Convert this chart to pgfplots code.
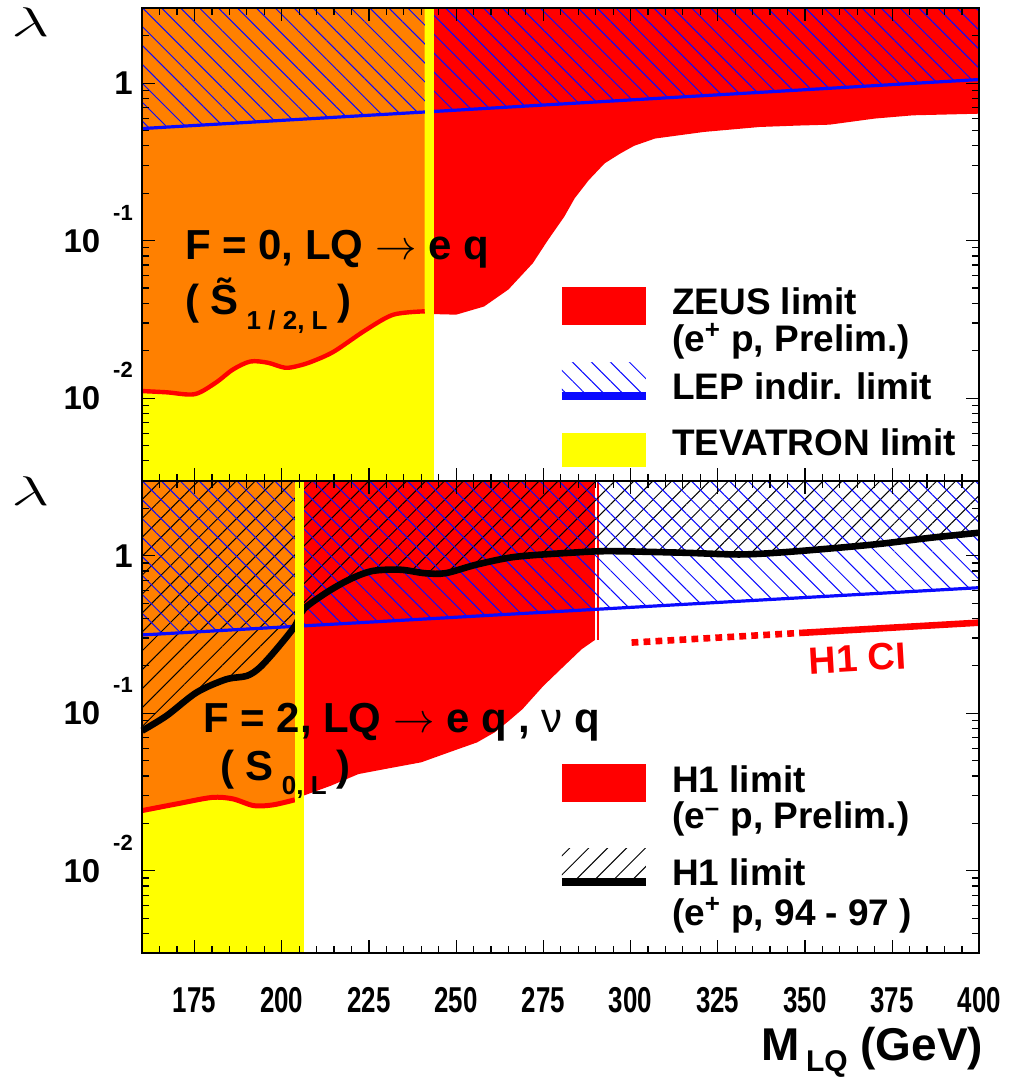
\documentclass[border=0pt]{standalone}
\usepackage{fontspec}
\setmainfont{Liberation Sans}
\usepackage{graphicx}
\usepackage{pgfplots}
\pgfplotsset{compat=1.18}
\usetikzlibrary{patterns.meta}

\definecolor{rred}{RGB}{255,0,0}
\definecolor{rorange}{RGB}{255,128,0}
\definecolor{ryellow}{RGB}{255,255,0}
\definecolor{rblue}{RGB}{10,10,255}

% ZEUS e+p limit (F=0): excluded area left of the Tevatron bound (first/last rows = upper corners)
\pgfplotstableread{
m lam
160 3
160 0.0111
167 0.0109
175 0.0106
181 0.0125
186 0.0152
191 0.0171
196 0.0168
201 0.0156
205 0.0161
209 0.0172
215 0.0198
224 0.0270
232 0.0339
241 0.0356
241 3
}\zeusL

% ZEUS e+p limit right of the Tevatron bound
\pgfplotstableread{
m lam
243.6 3
243.6 0.0342
250 0.0339
258 0.0382
265 0.0490
272 0.0720
276.3 0.1007
281 0.142
284 0.186
288 0.242
292.6 0.310
297 0.357
301 0.400
307 0.445
321 0.490
337 0.527
348 0.538
357 0.545
370 0.596
381 0.625
400 0.640
400 3
}\zeusR

% LEP indirect limit, F=0
\pgfplotstableread{
m lam
160 3
160 0.515
400 1.055
400 3
}\lepA

% H1 e-p limit (F=2)
\pgfplotstableread{
m lam
160 3
160 0.0241
170 0.0266
180 0.0292
186 0.0286
192 0.0259
197.5 0.0262
203.75 0.0282
203.75 3
}\hmL

\pgfplotstableread{
m lam
206.3 3
206.3 0.0300
214 0.0346
222 0.0411
230 0.0444
240 0.0488
248 0.0565
256 0.0653
261 0.0755
265 0.089
269 0.106
275 0.149
281 0.200
286 0.255
289.8 0.292
289.8 3
}\hmR

% H1 e+p 94-97 limit
\pgfplotstableread{
m lam
160 3
160 0.0775
167 0.0964
175.6 0.1355
184 0.164
190 0.1726
193.7 0.195
198.5 0.255
203.8 0.358
206.3 0.457
212.8 0.583
219.5 0.708
226 0.80
234 0.815
241 0.775
247 0.775
256 0.88
267 0.984
283 1.045
294 1.069
315 1.045
332 1.019
348 1.069
370 1.180
386 1.30
400 1.40
400 3
}\hplus

% LEP indirect limit, F=2
\pgfplotstableread{
m lam
160 3
160 0.314
400 0.627
400 3
}\lepB

\newcommand{\xl}[1]{\scalebox{0.72}[1]{#1}}
\newcommand{\expo}[1]{10\hspace{6.5pt}\raisebox{16pt}[0pt][0pt]{\fontsize{11}{11}\selectfont #1}}

\tikzset{
  bluehatch/.style={pattern={Lines[angle=-45,distance=6.7pt,line width=0.5pt]}, pattern color=rblue},
  blackhatch/.style={pattern={Lines[angle=45,distance=6.7pt,line width=0.5pt]}, pattern color=black},
  legtext/.style={anchor=base west, inner sep=0pt, align=left, font=\fontsize{18.5}{18.4}\selectfont\bfseries},
  bigtext/.style={anchor=base west, inner sep=0pt, font=\fontsize{21}{24}\selectfont\bfseries},
}

\pgfplotsset{
  every axis/.append style={
    width=419pt, height=236.5pt, scale only axis, anchor=south west,
    xmin=160, xmax=400, ymode=log, ymin=0.003, ymax=3,
    axis on top, clip=false,
    axis line style={line width=1pt},
    xtick={175,200,...,400}, minor xtick={160,165,...,400},
    ytick={0.01,0.1,1},
    minor ytick={0.003,0.004,0.005,0.006,0.007,0.008,0.009,0.02,0.03,0.04,0.05,0.06,0.07,0.08,0.09,0.2,0.3,0.4,0.5,0.6,0.7,0.8,0.9,2,3},
    yticklabels={\expo{-2},\expo{-1},1\hspace{15pt}},
    major tick length=6.5pt, minor tick length=3.5pt,
    every tick/.style={black, line width=0.6pt},
    yticklabel style={anchor=east, inner sep=0pt, xshift=-4.5pt, font=\fontsize{16.5}{18}\selectfont\bfseries},
    xticklabel style={anchor=north, inner sep=0pt, yshift=-17pt, font=\fontsize{18}{20}\selectfont\bfseries},
  },
}

\begin{document}
\begin{tikzpicture}
\useasboundingbox (-71.15pt,-62pt) rectangle (436pt,477pt);

% ---------------- top panel: F = 0 ----------------
\begin{axis}[at={(0,236.5pt)}, xticklabels={}]
\addplot[fill=ryellow, draw=none] coordinates {(160,0.003) (243.6,0.003) (243.6,3) (160,3)};
\addplot[fill=rorange, draw=none] table {\zeusL};
\addplot[fill=rred, draw=none] table {\zeusR};
\addplot[rred, line width=2.2pt, smooth, skip coords between index={0}{1}, skip coords between index={15}{16}] table {\zeusL};

\addplot[bluehatch, draw=none] table {\lepA};
\addplot[rblue, line width=1.6pt, skip coords between index={0}{1}, skip coords between index={3}{4}] table {\lepA};

\addplot[fill=ryellow, draw=none] coordinates {(241,0.003) (243.6,0.003) (243.6,3) (241,3)};

\node[font=\fontsize{22}{24}\selectfont] at (rel axis cs:0,1) [xshift=-56pt, yshift=-7pt] {\scalebox{1.6}[1]{$\lambda$}};

\node[bigtext] at (axis cs:172.2,0.0755) {F = 0, LQ $\rightarrow$ e q};
\node[bigtext] at (axis cs:172.2,0.0339) {( \~S\hspace{4pt}\raisebox{-7.5pt}{\fontsize{13}{13}\selectfont 1 / 2, L}\hspace{5pt})};

% legend (multi-line nodes are anchored on their last baseline)
\fill[rred] (axis cs:280.3,0.0293) rectangle (axis cs:304.4,0.0509);
\node[legtext] at (axis cs:311.8,0.0198) {ZEUS limit\\(e\textsuperscript{+} p, Prelim.)};
\fill[bluehatch] (axis cs:280.3,0.01102) rectangle (axis cs:304.4,0.01683);
\draw[rblue, line width=4pt] (axis cs:280.3,0.0104) -- (axis cs:304.4,0.0104);
\node[legtext] at (axis cs:311.8,0.00981) {LEP indir. limit};
\fill[ryellow] (axis cs:280.3,0.00364) rectangle (axis cs:304.4,0.00597);
\node[legtext] at (axis cs:311.8,0.0043) {TEVATRON limit};
\end{axis}

% ---------------- bottom panel: F = 2 ----------------
\begin{axis}[at={(0,0)},
  xticklabels={\xl{175},\xl{200},\xl{225},\xl{250},\xl{275},\xl{300},\xl{325},\xl{350},\xl{375},\xl{400}}]
\addplot[fill=ryellow, draw=none] coordinates {(160,0.003) (206.3,0.003) (206.3,3) (160,3)};
\addplot[fill=rorange, draw=none] table {\hmL};
\addplot[fill=rred, draw=none] table {\hmR};
\addplot[rred, line width=2.5pt, smooth, skip coords between index={0}{1}, skip coords between index={8}{9}] table {\hmL};
\addplot[rred, line width=0.8pt] coordinates {(290.6,3) (290.6,0.292)};

\addplot[blackhatch, draw=none] table {\hplus};
\addplot[bluehatch, draw=none] table {\lepB};
\addplot[rblue, line width=1.6pt, skip coords between index={0}{1}, skip coords between index={3}{4}] table {\lepB};
\addplot[black, line width=3.3pt, smooth, skip coords between index={0}{1}, skip coords between index={26}{27}] table {\hplus};

% H1 contact interaction bound
\addplot[rred, line width=3.3pt, dash pattern=on 3.4pt off 2.6pt] coordinates {(300.3,0.281) (350.3,0.325)};
\addplot[rred, line width=3.3pt] coordinates {(350.3,0.325) (400,0.376)};

\addplot[fill=ryellow, draw=none] coordinates {(203.75,0.003) (206.3,0.003) (206.3,3) (203.75,3)};

\node[font=\fontsize{22}{24}\selectfont] at (rel axis cs:0,1) [xshift=-56pt, yshift=-5.5pt] {\scalebox{1.6}[1]{$\lambda$}};

\node[bigtext] at (axis cs:177.4,0.0755) {F = 2, LQ $\rightarrow$ e q , {\mdseries ν} q};
\node[bigtext] at (axis cs:182.3,0.0373) {( S\hspace{4pt}\raisebox{-7pt}{\fontsize{13}{13}\selectfont 0, L}\hspace{5pt})};
\node[anchor=base west, inner sep=0pt, rotate=3.3, text=rred, font=\fontsize{19}{21}\selectfont\bfseries] at (axis cs:351.3,0.177) {H1 CI};

% legend
\fill[rred] (axis cs:280.3,0.0273) rectangle (axis cs:304.4,0.0476);
\node[legtext] at (axis cs:311.8,0.01844) {H1 limit\\(e\textsuperscript{--} p, Prelim.)};
\fill[blackhatch] (axis cs:280.3,0.00889) rectangle (axis cs:304.4,0.01377);
\draw[black, line width=4pt] (axis cs:280.3,0.00847) -- (axis cs:304.4,0.00847);
\node[legtext, font=\fontsize{18.5}{20}\selectfont\bfseries] at (axis cs:311.8,0.0045) {H1 limit\\(e\textsuperscript{+} p, 94 - 97 )};

\node[anchor=base east, inner sep=0pt, font=\fontsize{23}{26}\selectfont\bfseries] at (rel axis cs:1,0) [xshift=2pt, yshift=-53.5pt] {M\hspace{3pt}\raisebox{-5.5pt}{\fontsize{15}{15}\selectfont LQ} (GeV)};
\end{axis}
\end{tikzpicture}
\end{document}
